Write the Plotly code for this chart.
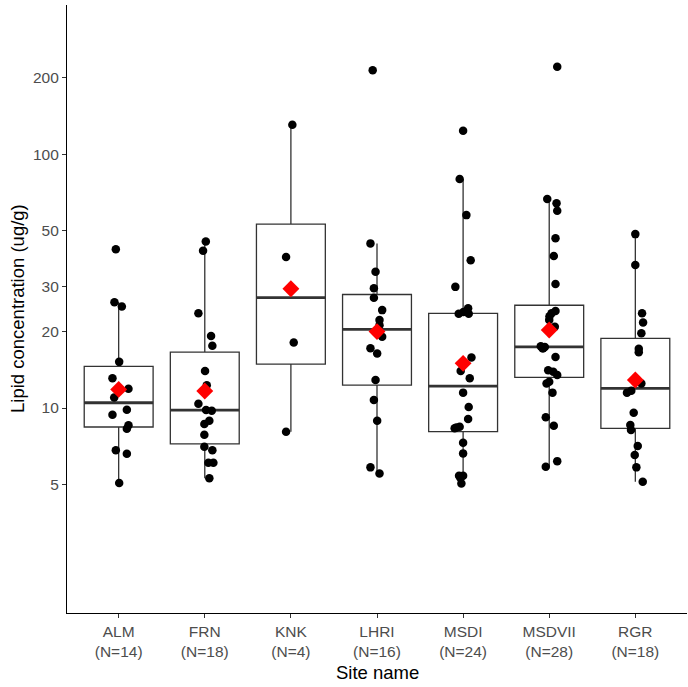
import plotly.graph_objects as go

# ---------------- data ----------------
sites = ["ALM", "FRN", "KNK", "LHRI", "MSDI", "MSDVII", "RGR"]
counts = [14, 18, 4, 16, 24, 28, 18]

alm = [42.2, 26.1, 25.1, 15.2, 13.1, 11.9, 11.0, 9.85, 9.41, 8.55, 8.29, 6.82, 6.61, 5.07]
frn = [45.3, 41.6, 23.6, 19.2, 17.6, 14.0, 12.3, 10.4, 9.76, 9.82, 8.91, 8.65, 7.85, 7.04,
       6.82, 6.09, 6.09, 5.29]
knk = [130.5, 39.3, 18.1, 8.07]
lhri = [214.0, 44.5, 34.4, 29.6, 27.2, 24.3, 22.2, 21.2, 19.1, 17.2, 16.4, 12.9, 10.75,
        8.91, 5.84, 5.53]
msdi = [123.5, 79.7, 57.5, 38.2, 30.0, 24.7, 23.9, 23.5, 23.5, 15.8, 14.0, 13.1, 11.5,
        10.1, 9.05, 8.44, 8.38, 8.32, 7.30, 6.63, 5.41, 5.41, 5.30, 5.05]
msdvii = [220.6, 66.5, 64.0, 59.8, 46.6, 39.7, 30.8, 24.1, 23.6, 23.0, 22.2, 20.9, 20.3,
          17.5, 17.4, 17.2, 17.2, 15.9, 14.1, 13.9, 13.5, 12.7, 12.5, 11.5, 9.19, 8.52,
          6.18, 5.87]
rgr = [48.4, 36.6, 23.6, 21.7, 19.7, 17.1, 16.6, 12.9, 12.5, 11.7, 11.5, 9.58, 8.57,
       8.19, 7.09, 6.53, 5.84, 5.13]

# horizontal jitter of each point (category units)
jit_alm = [-0.033, -0.049, 0.037, 0.006, -0.072, 0.114, -0.052, 0.095, -0.072, 0.114,
           0.095, -0.033, 0.095, 0.006]
jit_frn = [0.012, -0.020, -0.074, 0.073, 0.088, 0.003, 0.023, -0.074, 0.081, 0.015,
           0.053, -0.005, -0.005, -0.005, 0.088, 0.042, 0.100, 0.053]
jit_knk = [0.017, -0.056, 0.033, -0.056]
jit_lhri = [-0.050, -0.076, -0.017, -0.036, -0.036, 0.060, 0.029, 0.029, 0.060, -0.076,
            0.002, -0.017, -0.036, 0.002, -0.076, 0.029]
jit_msdi = [0.0, -0.040, 0.038, 0.088, -0.090, 0.058, 0.003, -0.051, 0.065, 0.097,
            -0.028, 0.077, 0.0, 0.065, 0.058, -0.040, -0.078, -0.098, 0.0, 0.0,
            -0.047, 0.0, -0.031, -0.020]
jit_msdvii = [0.093, -0.023, 0.085, 0.093, 0.073, 0.053, 0.073, 0.073, 0.027, 0.003,
              0.0, 0.065, -0.008, -0.098, -0.051, -0.078, -0.070, 0.073, -0.012, 0.047,
              0.093, 0.0, -0.031, 0.038, -0.040, 0.053, 0.093, -0.040]
jit_rgr = [0.0, 0.0, 0.078, 0.090, 0.070, 0.040, 0.040, -0.015, 0.070, -0.047, -0.097,
           -0.019, -0.058, -0.050, 0.028, -0.007, 0.012, 0.086]

# box statistics (log scale)
q1 = [8.42, 7.22, 14.9, 12.3, 8.07, 13.2, 8.32]
median = [10.49, 9.82, 27.2, 20.4, 12.2, 17.4, 11.96]
q3 = [14.6, 16.6, 53.0, 28.0, 23.6, 25.4, 18.8]
whisker_low = [5.07, 5.29, 8.07, 5.53, 5.05, 5.87, 5.13]
whisker_high = [26.1, 45.3, 130.5, 44.5, 79.7, 66.5, 48.4]
means = [11.84, 11.67, 29.5, 20.0, 15.0, 20.3, 12.9]

y_ticks = [5, 10, 20, 30, 50, 100, 200]

# ---------------- figure ----------------
values = [alm, frn, knk, lhri, msdi, msdvii, rgr]
jitters = [jit_alm, jit_frn, jit_knk, jit_lhri, jit_msdi, jit_msdvii, jit_rgr]
pos = list(range(len(sites)))
box_w = 0.8
line_col = "#333333"

fig = go.Figure()

fig.add_trace(go.Box(
    x=pos, q1=q1, median=median, q3=q3,
    lowerfence=whisker_low, upperfence=whisker_high,
    width=box_w, boxpoints=False, whiskerwidth=0,
    fillcolor="white", line=dict(color=line_col, width=1.3),
    showlegend=False, hoverinfo="skip",
))

# thicker median lines
mx, my = [], []
for i, m in zip(pos, median):
    mx += [i - box_w / 2, i + box_w / 2, None]
    my += [m, m, None]
fig.add_trace(go.Scatter(x=mx, y=my, mode="lines",
                         line=dict(color=line_col, width=2.8),
                         showlegend=False, hoverinfo="skip"))

px_, py_ = [], []
for i, vals, jit in zip(pos, values, jitters):
    for v, j in zip(vals, jit):
        px_.append(i + j)
        py_.append(v)
fig.add_trace(go.Scatter(x=px_, y=py_, mode="markers",
                         marker=dict(color="black", size=8.5),
                         showlegend=False))

fig.add_trace(go.Scatter(x=pos, y=means, mode="markers",
                         marker=dict(color="#FF0000", symbol="diamond", size=13),
                         showlegend=False))

font_family = "Liberation Sans, Arial, sans-serif"
ticktext = [f"{s}<br>(N={n})" for s, n in zip(sites, counts)]

fig.update_layout(
    width=688, height=687,
    margin=dict(l=67, r=1, t=5, b=74),
    paper_bgcolor="white", plot_bgcolor="white",
    font=dict(family=font_family),
    xaxis=dict(
        range=[-0.6, 6.6], tickmode="array", tickvals=pos, ticktext=ticktext,
        showgrid=False, zeroline=False, showline=True, linecolor="black", linewidth=1.2,
        ticks="outside", ticklen=4, tickcolor=line_col, tickwidth=1.1,
        tickfont=dict(size=15.5, color="#4D4D4D", family=font_family),
        automargin=False,
    ),
    yaxis=dict(
        type="log", range=[0.193, 2.587], tickmode="array",
        tickvals=y_ticks, ticktext=[str(t) for t in y_ticks],
        showgrid=False, zeroline=False, showline=True, linecolor="black", linewidth=1.2,
        ticks="outside", ticklen=4, tickcolor=line_col, tickwidth=1.1,
        tickfont=dict(size=15.5, color="#4D4D4D", family=font_family),
        automargin=False,
    ),
    annotations=[
        dict(text="Site name", xref="paper", yref="paper", x=0.5, y=0,
             xanchor="center", yanchor="middle", yshift=-59, showarrow=False,
             font=dict(size=18.5, color="black", family=font_family)),
        dict(text="Lipid concentration (ug/g)", xref="paper", yref="paper", x=0, y=0.5,
             xanchor="center", yanchor="middle", xshift=-50, textangle=-90,
             showarrow=False, font=dict(size=18.5, color="black", family=font_family)),
    ],
)

fig.write_html("out.html",
               config={"displayModeBar": False},
               post_script="document.body.style.margin='0';document.body.style.overflow='hidden';")
